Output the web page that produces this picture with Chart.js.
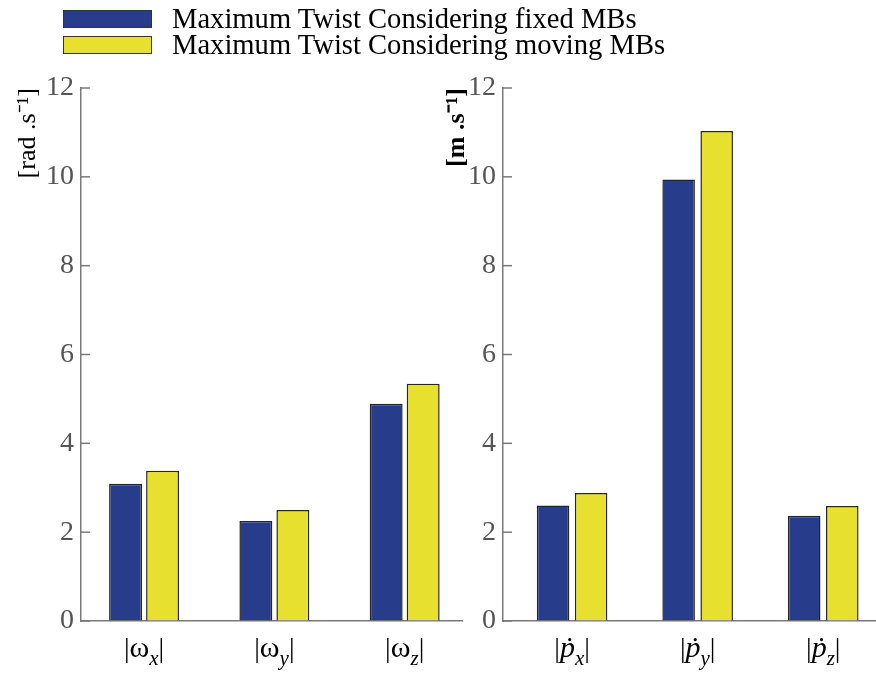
<!DOCTYPE html>
<html>
<head>
<meta charset="utf-8">
<script src="https://cdn.jsdelivr.net/npm/chart.js@4.4.1/dist/chart.umd.min.js"></script>
<style>
  body { margin: 0; background: #fff; }
  #page { position: relative; width: 876px; height: 677px; overflow: hidden; }
  .wrap { position: absolute; left: 0; top: 0; width: 876px; height: 677px; }
  #legend { position: absolute; left: 63px; top: 6px; font-family: "Liberation Serif", serif; font-size: 28.6px; color: #000; }
  .item { display: flex; align-items: center; height: 26px; }
  .box { width: 87px; height: 16px; border: 1px solid #333; margin-right: 20px; }
</style>
</head>
<body>
<div id="page">
  <div class="wrap"><canvas id="left"></canvas></div>
  <div class="wrap"><canvas id="right"></canvas></div>
  <div id="legend"></div>
</div>
<script>
// series names
var seriesNames = ['Maximum Twist Considering fixed MBs', 'Maximum Twist Considering moving MBs'];
var seriesColors = ['#283C8C', '#E8E02E'];

// left panel: angular velocity
var leftBase = 'ω';
var leftSubs = ['x', 'y', 'z'];
var leftFixed = [3.09, 2.25, 4.89];
var leftMoving = [3.38, 2.50, 5.34];

// right panel: linear velocity
var rightBase = 'ṗ';
var rightSubs = ['x', 'y', 'z'];
var rightFixed = [2.60, 9.94, 2.37];
var rightMoving = [2.88, 11.03, 2.59];

var yTicks = [0, 2, 4, 6, 8, 10, 12];

// legend
var legend = document.getElementById('legend');
seriesNames.forEach(function(name, i) {
    var item = document.createElement('div');
    item.className = 'item';
    var box = document.createElement('span');
    box.className = 'box';
    box.style.background = seriesColors[i];
    var label = document.createElement('span');
    label.textContent = name;
    item.appendChild(box);
    item.appendChild(label);
    legend.appendChild(item);
});

var axisColor = '#7a7a7a';
var serif = '"Liberation Serif", "Times New Roman", serif';

// inward y ticks + category labels like |ω_x|
var axisDecor = {
    id: 'axisDecor',
    afterDraw: function(chart, args, opts) {
        var ctx = chart.ctx;
        var ys = chart.scales.y;
        var xs = chart.scales.x;
        ctx.save();
        ctx.strokeStyle = axisColor;
        ctx.lineWidth = 1.5;
        ys.ticks.forEach(function(t, i) {
            var py = ys.getPixelForTick(i);
            ctx.beginPath();
            ctx.moveTo(ys.right, py);
            ctx.lineTo(ys.right + 9, py);
            ctx.stroke();
        });

        ctx.fillStyle = '#000';
        ctx.textBaseline = 'alphabetic';
        opts.subs.forEach(function(sub, i) {
            var parts = [
                { t: '|', f: '28px ' + serif, dy: 0 },
                { t: opts.base, f: (opts.italic ? 'italic ' : '') + '30px ' + serif, dy: 0 },
                { t: sub, f: 'italic 21px ' + serif, dy: 8 },
                { t: '|', f: '28px ' + serif, dy: 0 }
            ];
            var total = 0;
            parts.forEach(function(p) {
                ctx.font = p.f;
                p.w = ctx.measureText(p.t).width;
                total += p.w;
            });
            var px = xs.getPixelForValue(i + 1) - total / 2;
            var base = 657;
            parts.forEach(function(p) {
                ctx.font = p.f;
                ctx.fillText(p.t, px, base + p.dy);
                px += p.w;
            });
        });
        ctx.restore();
    }
};

function makeChart(id, fixedVals, movingVals, base, subs, italic, title, titleBold, pad, xMin, xMax, catPct, barPct, titlePad) {
    var ctx = document.getElementById(id).getContext('2d');
    return new Chart(ctx, {
        type: 'bar',
        data: {
            datasets: [{
                label: seriesNames[0],
                data: fixedVals.map(function(v, i) { return { x: i + 1, y: v }; }),
                backgroundColor: seriesColors[0],
                borderColor: '#262626',
                borderWidth: 1.5
            }, {
                label: seriesNames[1],
                data: movingVals.map(function(v, i) { return { x: i + 1, y: v }; }),
                backgroundColor: seriesColors[1],
                borderColor: '#262626',
                borderWidth: 1.5
            }]
        },
        options: {
            responsive: true,
            maintainAspectRatio: false,
            animation: false,
            categoryPercentage: catPct,
            barPercentage: barPct,
            layout: { padding: pad },
            plugins: {
                legend: { display: false },
                tooltip: { enabled: false },
                axisDecor: { base: base, subs: subs, italic: italic }
            },
            scales: {
                x: {
                    type: 'linear',
                    offset: false,
                    min: xMin,
                    max: xMax,
                    ticks: { display: false, stepSize: 1, includeBounds: false },
                    grid: { display: true, offset: false, drawOnChartArea: false, drawTicks: false },
                    border: { display: true, color: axisColor, width: 1.5 },
                    afterFit: function(s) { s.height = 0; }
                },
                y: {
                    min: 0,
                    max: 12,
                    afterBuildTicks: function(s) { s.ticks = yTicks.map(function(v) { return { value: v }; }); },
                    ticks: { color: '#555', padding: 7, font: { family: serif, size: 28 } },
                    grid: { display: true, drawOnChartArea: false, drawTicks: false },
                    border: { display: true, color: axisColor, width: 1.5 },
                    title: {
                        display: true,
                        text: title,
                        align: 'end',
                        color: '#000',
                        padding: { top: titlePad, bottom: 0 },
                        font: { family: serif, size: 26, weight: titleBold ? 'bold' : 'normal' }
                    },
                    afterFit: function(s) { s.width = 81; }
                }
            }
        },
        plugins: [axisDecor]
    });
}

makeChart('left', leftFixed, leftMoving, leftBase, leftSubs, false, '[rad .s⁻¹]', false,
    { top: 88, bottom: 56, left: 0, right: 414 }, 0.516, 3.44, 0.568, 0.89, 13);
makeChart('right', rightFixed, rightMoving, rightBase, rightSubs, true, '[m .s⁻¹]', true,
    { top: 88, bottom: 56, left: 422, right: 0 }, 0.45, 3.42, 0.606, 0.855, 20);
</script>
</body>
</html>
